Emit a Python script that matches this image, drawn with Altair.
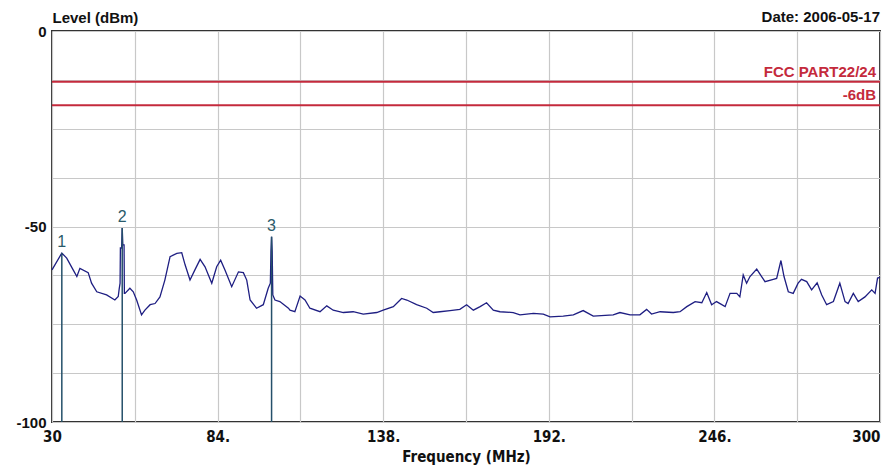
import altair as alt
import pandas as pd

# Spectrum trace (MHz, dBm)
freq = [30.0, 33.2, 34.8, 36.9, 38.1, 39.1, 41.8, 42.9, 44.6, 47.8, 50.5, 51.6, 51.9, 52.2, 52.3, 52.7, 52.9, 53.1, 53.5, 53.6,
        53.8, 55.4, 56.5, 57.6, 59.2, 60.3, 62.0, 63.6, 65.2, 66.8, 68.5, 70.7, 72.3, 73.4, 75.0, 76.6, 78.3, 79.9,
        82.1, 83.7, 85.0, 86.4, 88.6, 90.8, 92.4, 93.5, 94.6, 96.7, 98.9, 100.5, 101.2, 101.4, 101.6, 101.8, 102.0,
        102.7, 104.3, 107.1, 107.6, 109.2, 110.9, 112.5, 114.1, 117.4, 119.6, 121.7, 125.0, 128.2, 131.5, 135.9,
        138.0, 141.3, 144.0, 145.7, 148.9, 152.2, 154.3, 156.5, 159.8, 163.0, 165.2, 167.4, 169.6, 171.7, 173.9,
        176.1, 180.4, 182.6, 187.0, 190.2, 192.4, 196.7, 200.0, 203.2, 206.5, 213.0, 215.2, 218.5, 221.7, 223.9,
        225.5, 228.3, 232.6, 234.8, 237.0, 239.7, 241.9, 243.5, 245.1, 246.7, 249.5, 251.1, 253.3, 254.3, 255.4,
        256.5, 257.6, 259.8, 261.4, 262.5, 265.2, 266.3, 267.7, 268.7, 270.1, 271.7, 273.3, 274.4, 276.1, 277.7,
        279.5, 281.0, 282.6, 284.8, 286.9, 288.6, 289.6, 291.3, 292.9, 295.1, 297.3, 298.4, 299.2, 300.0]
level = [-61.1, -56.8, -58.1, -61.1, -62.8, -60.7, -61.8, -64.5, -66.7, -67.5, -68.8, -67.9, -66.0, -64.5, -55.5, -55.5, -50.4, -54.7, -54.7, -67.1,
         -67.1, -65.8, -66.7, -68.8, -72.6, -71.4, -70.0, -69.7, -68.0, -63.7, -57.7, -56.9, -56.7, -59.8, -63.7, -61.1, -58.4, -60.3,
         -64.5, -60.3, -58.6, -61.1, -65.4, -61.6, -61.8, -63.7, -68.8, -70.9, -70.0, -65.8, -64.5, -56.4, -52.6, -56.4, -67.5,
         -68.8, -69.2, -70.9, -71.4, -71.8, -67.8, -68.8, -70.9, -71.8, -70.3, -71.4, -72.0, -71.8, -72.4, -72.0,
         -71.4, -70.5, -68.4, -68.8, -70.0, -70.9, -72.0, -71.8, -71.5, -71.2, -70.0, -71.4, -70.5, -69.5, -71.4,
         -71.8, -72.0, -72.6, -72.2, -72.4, -73.1, -72.9, -72.6, -71.5, -72.9, -72.6, -72.0, -72.6, -72.6, -71.2,
         -72.4, -71.8, -72.0, -71.8, -70.5, -69.2, -69.5, -66.9, -70.0, -69.2, -70.5, -67.1, -67.1, -68.0, -62.4,
         -64.5, -62.8, -60.9, -62.8, -64.1, -63.5, -63.3, -58.7, -62.8, -66.7, -67.1, -64.5, -63.5, -64.1, -66.2,
         -64.4, -67.5, -70.0, -69.2, -64.5, -69.2, -69.7, -67.1, -69.2, -68.0, -66.2, -67.1, -63.2, -63.0]

# Markers
marker_id = ["1", "2", "3"]
marker_freq = [33.2, 52.9, 101.6]
marker_level = [-56.8, -50.4, -52.6]

# Limit lines
limit_label = ["FCC PART22/24", "-6dB"]
limit_level = [-13, -19]

x_grid = [30, 57, 84, 111, 138, 165, 192, 219, 246, 273, 300]
y_grid = [0, -12.5, -25, -37.5, -50, -62.5, -75, -87.5, -100]

trace = pd.DataFrame({"f": freq, "lvl": level})
markers = pd.DataFrame({"id": marker_id, "f": marker_freq, "lvl": marker_level, "bottom": [-100] * 3})
limits = pd.DataFrame({"label": limit_label, "lvl": limit_level, "f0": [30] * 2, "f1": [300] * 2})

BOLD = "Liberation Sans"
NARROW = "DejaVu Sans Condensed, Liberation Sans Narrow, Liberation Sans"
RED = "#c42a3c"

xs = alt.Scale(domain=[30, 300], nice=False, zero=False)
ys = alt.Scale(domain=[-100, 0], nice=False, zero=False)

xaxis = alt.Axis(values=x_grid, grid=True, gridColor="#c8c8c8", gridWidth=1.2, ticks=False, domain=False,
                 labelExpr="(datum.value==30||datum.value==300) ? datum.value : ((datum.value-30)%54==0 ? datum.value+'.' : '')",
                 labelAlign={"condition": {"test": "datum.value == 300", "value": "right"}, "value": "center"},
                 labelFont=NARROW, labelFontSize=15, labelFontWeight="bold", labelColor="#111", labelPadding=7,
                 labelFlush=False, labelOverlap=False,
                 title="Frequency (MHz)", titleFont=NARROW, titleFontSize=15, titleFontWeight="bold",
                 titleColor="#111", titlePadding=5)
yaxis = alt.Axis(values=y_grid, grid=True, gridColor="#c8c8c8", gridWidth=1.2, ticks=False, domain=False,
                 labelExpr="datum.value % 50 == 0 ? datum.value : ''",
                 labelFont=BOLD, labelFontSize=15, labelFontWeight="bold", labelColor="#111", labelPadding=6,
                 labelOverlap=False,
                 title="Level (dBm)", titleAngle=0, titleAlign="left", titleBaseline="bottom",
                 titleX=0, titleY=-6, titleFont=BOLD, titleFontSize=15, titleFontWeight="bold", titleColor="#111")

base_grid = alt.Chart(trace).mark_line(opacity=0).encode(
    x=alt.X("f:Q", scale=xs, axis=xaxis),
    y=alt.Y("lvl:Q", scale=ys, axis=yaxis),
)

limit_rules = alt.Chart(limits).mark_rule(color=RED, strokeWidth=2).encode(
    x=alt.X("f0:Q", scale=xs), x2="f1:Q", y=alt.Y("lvl:Q", scale=ys))

limit_text = alt.Chart(limits).mark_text(color=RED, font=BOLD, fontSize=15, fontWeight="bold",
                                         align="right", baseline="bottom", dx=-4, dy=-2).encode(
    x=alt.X("f1:Q", scale=xs), y=alt.Y("lvl:Q", scale=ys), text="label:N")

line = alt.Chart(trace).mark_line(color="#1e1e82", strokeWidth=1.3).encode(
    x=alt.X("f:Q", scale=xs), y=alt.Y("lvl:Q", scale=ys))

marker_rules = alt.Chart(markers).mark_rule(color="#25506a", strokeWidth=1.5).encode(
    x=alt.X("f:Q", scale=xs), y=alt.Y("lvl:Q", scale=ys), y2="bottom:Q")

marker_text = alt.Chart(markers).mark_text(color="#2a5a6a", font=BOLD, fontSize=16, baseline="bottom", dy=-3).encode(
    x=alt.X("f:Q", scale=xs), y=alt.Y("lvl:Q", scale=ys), text="id:N")

date_text = alt.Chart(pd.DataFrame({"t": ["Date: 2006-05-17"]})).mark_text(
    font=BOLD, fontSize=15, fontWeight="bold", align="right", baseline="bottom", color="#111").encode(
    x=alt.value(828), y=alt.value(-6), text="t:N")

chart = alt.layer(base_grid, limit_rules, limit_text, line, marker_rules, marker_text, date_text).properties(
    width=828, height=391,
    padding={"left": 44, "top": 23, "right": 5, "bottom": 44},
    autosize=alt.AutoSizeParams(type="none"),
    background="white",
).configure_view(stroke="#333333", strokeWidth=2)

chart.save("out.html", embed_options={"renderer": "svg", "actions": False})
